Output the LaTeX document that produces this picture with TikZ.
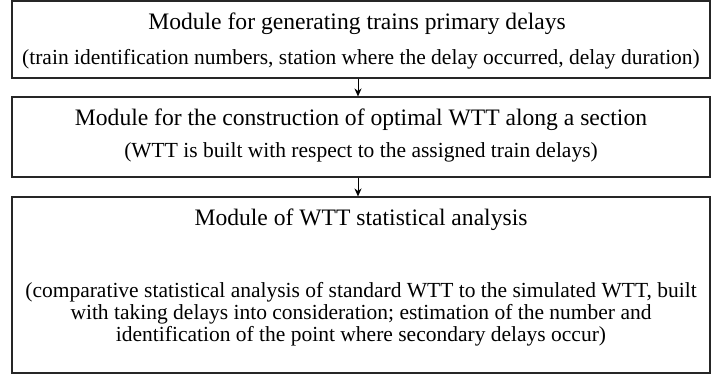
\documentclass[tikz,border=0pt]{standalone}
\usepackage{fontspec}
\setmainfont{Liberation Serif}
\usetikzlibrary{arrows.meta}
\begin{document}
\begin{tikzpicture}[x=1pt,y=1pt,
  box/.style={draw=black!85, line width=1.1pt, rectangle, inner sep=0pt},
  ttl/.style={font=\fontsize{23.6}{27}\selectfont, inner sep=0pt, anchor=mid},
  sub/.style={font=\fontsize{21.5}{22}\selectfont, inner sep=0pt, align=center},
  arr/.style={-{Stealth[length=8pt,width=7pt]}, line width=1pt}]
\useasboundingbox (0,0) rectangle (712,374);
\node[box, minimum width=698, minimum height=77] (b1) at (361,334.5) {};
\node[box, minimum width=698, minimum height=80] (b2) at (361,237) {};
\node[box, minimum width=698, minimum height=176] (b3) at (361,89) {};
\node[ttl] (t1) at (357,347) {Module for generating trains primary delays};
\node[sub, anchor=mid] (s1) at (361,312) {(train identification numbers, station where the delay occurred, delay duration)};
\node[ttl] (t2) at (361,251) {Module for the construction of optimal WTT along a section};
\node[sub, anchor=mid] (s2) at (361,219) {(WTT is built with respect to the assigned train delays)};
\node[ttl] (t3) at (361,151) {Module of WTT statistical analysis};
\node[sub, anchor=center] (s3) at (361,60) {(comparative statistical analysis of standard WTT to the simulated WTT, built\\ with taking delays into consideration; estimation of the number and\\ identification of the point where secondary delays occur)};
\draw[arr] (b1.south -| 358,0) -- (b2.north -| 358,0);
\draw[arr] (b2.south -| 358,0) -- (b3.north -| 358,0);
\end{tikzpicture}
\end{document}
